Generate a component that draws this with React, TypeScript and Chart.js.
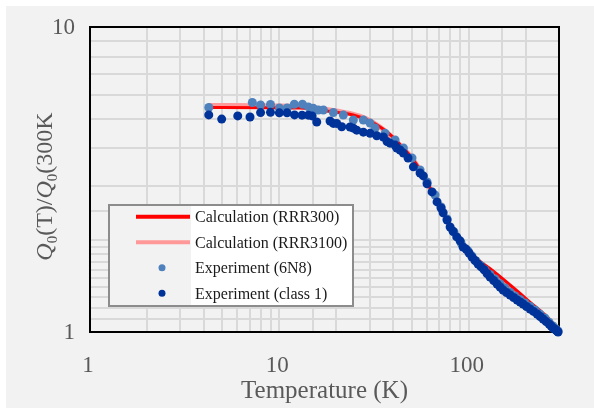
import React, { useEffect, useRef } from 'react';
import { Chart, registerables } from 'chart.js';

Chart.register(...registerables);

// Calculation (RRR300)
const tempRRR300 = [4.2, 12.86, 18.53, 24.5, 30.14, 35.3, 39.86, 45.2, 51, 55.4, 62.5, 70.6, 79.8, 90.1, 101.7, 114.9, 132.5, 165.5, 210.6, 274.8, 300];
const qRRR300 = [5.445, 5.425, 5.284, 5.147, 4.918, 4.63, 4.357, 4.01, 3.664, 3.397, 2.966, 2.589, 2.243, 2.003, 1.829, 1.703, 1.597, 1.426, 1.254, 1.081, 1.0];

// Calculation (RRR3100)
const tempRRR3100 = [4.2, 12.86, 18.53, 23.63, 28.95, 34.04, 38.44, 43.41, 47.3, 51, 62.5, 70.6, 79.8, 90.1, 101.7, 114.9, 132.5, 165.5, 210.6, 274.8, 300];
const qRRR3100 = [5.53, 5.49, 5.345, 5.205, 4.993, 4.7, 4.41, 4.07, 3.88, 3.664, 2.957, 2.57, 2.226, 1.987, 1.816, 1.685, 1.573, 1.394, 1.226, 1.066, 1.0];

// Experiment (6N8)
const temp6N8 = [4.24, 7.2, 7.96, 8.98, 10.0, 11.0, 12.0, 13.25, 14.23, 15.12, 16.07, 17.08, 19.29, 21.78, 24.6, 27.78, 30.14, 32.03, 36.2, 40.85, 45.2, 50.2, 55.4, 60.3, 66.45, 71.5, 76.9, 83.7, 91.2, 99.3, 104, 109.4, 115.5, 122.1, 129.5, 137.9, 146.5, 155.7, 165.5, 175.9, 187, 198.6, 211, 224.3, 238, 253.3, 266, 279, 288, 296.7];
const q6N8 = [5.445, 5.655, 5.55, 5.575, 5.43, 5.43, 5.58, 5.58, 5.47, 5.41, 5.345, 5.345, 5.245, 5.147, 4.955, 4.955, 4.84, 4.664, 4.48, 4.26, 4.01, 3.72, 3.397, 3.103, 2.813, 2.57, 2.347, 2.128, 1.958, 1.843, 1.775, 1.71, 1.652, 1.597, 1.543, 1.492, 1.44, 1.394, 1.35, 1.312, 1.277, 1.245, 1.212, 1.181, 1.145, 1.111, 1.077, 1.046, 1.025, 1.008];

// Experiment (class 1)
const tempClass1 = [4.24, 4.96, 6.03, 7.0, 7.96, 8.98, 10.0, 10.98, 12.03, 13.18, 14.23, 14.9, 15.76, 18.53, 19.29, 20.1, 21.36, 23.63, 24.6, 25.63, 27.78, 30.14, 32.7, 35.43, 37.06, 38.44, 40.85, 41.71, 43.41, 45.19, 47.85, 51.05, 55.38, 57.64, 60.29, 64.08, 68.1, 71.5, 73.3, 76.9, 79.8, 82.7, 86.5, 90.1, 93.4, 96.9, 100.5, 104.2, 108, 112.1, 116.3, 120.6, 125, 129.7, 135.5, 141.3, 146.5, 151.9, 158.5, 165.5, 172.7, 180.2, 187, 193.8, 202, 211, 220, 229.8, 238.5, 247.2, 256.5, 265.9, 272.5, 279, 284, 289.5, 293, 296.7];
const qClass1 = [5.15, 4.99, 5.11, 5.07, 5.24, 5.25, 5.23, 5.23, 5.15, 5.14, 5.14, 5.11, 4.88, 4.92, 4.83, 4.83, 4.71, 4.7, 4.66, 4.59, 4.52, 4.48, 4.4, 4.36, 4.21, 4.16, 4.1, 4.01, 3.95, 3.86, 3.72, 3.48, 3.32, 3.25, 3.06, 2.88, 2.67, 2.55, 2.46, 2.33, 2.21, 2.14, 2.05, 1.99, 1.9, 1.87, 1.815, 1.76, 1.715, 1.67, 1.635, 1.6, 1.555, 1.515, 1.475, 1.437, 1.405, 1.373, 1.347, 1.322, 1.297, 1.273, 1.254, 1.235, 1.212, 1.19, 1.168, 1.146, 1.124, 1.103, 1.082, 1.062, 1.046, 1.031, 1.023, 1.015, 1.007, 1.0];

const seriesLabels = ['Calculation (RRR300)', 'Calculation (RRR3100)', 'Experiment (6N8)', 'Experiment (class 1)'];
const xTitle = 'Temperature (K)';
const yTitleParts = ['Q', '0', '(T)/', 'Q', '0', '(300K'];

const toPts = (xs: number[], ys: number[]) => xs.map((x, i) => ({ x, y: ys[i] }));

const SERIF = '"Liberation Serif", "Times New Roman", serif';
const TEXT_GRAY = '#595959';

const decadeLabel = (v: any) => {
  const n = Number(v);
  const l = Math.log10(n);
  return Math.abs(l - Math.round(l)) < 1e-9 ? String(n) : '';
};

const plotBorder = {
  id: 'plotBorder',
  beforeDatasetsDraw(chart: any) {
    const { ctx, chartArea: a } = chart;
    ctx.save();
    ctx.strokeStyle = '#000000';
    ctx.lineWidth = 2;
    ctx.strokeRect(a.left, a.top, a.right - a.left, a.bottom - a.top);
    ctx.restore();
  },
};

const yTitlePlugin = {
  id: 'yTitle',
  afterDraw(chart: any) {
    const ctx = chart.ctx;
    const big = `24px ${SERIF}`;
    const ital = `italic 24px ${SERIF}`;
    const small = `15px ${SERIF}`;
    const fonts = [ital, small, big, ital, small, big];
    const dys = [0, 5, 0, 0, 5, 0];
    ctx.save();
    let total = 0;
    const widths = yTitleParts.map((t, i) => {
      ctx.font = fonts[i];
      const w = ctx.measureText(t).width;
      total += w;
      return w;
    });
    const cx = 38;
    const cy = (chart.chartArea.top + chart.chartArea.bottom) / 2 + 7;
    ctx.translate(cx, cy);
    ctx.rotate(-Math.PI / 2);
    ctx.fillStyle = TEXT_GRAY;
    ctx.textBaseline = 'alphabetic';
    ctx.textAlign = 'left';
    let x = -total / 2;
    yTitleParts.forEach((t, i) => {
      ctx.font = fonts[i];
      ctx.fillText(t, x, 8 + dys[i]);
      x += widths[i];
    });
    ctx.restore();
  },
};

const insideLegend = {
  id: 'insideLegend',
  afterDraw(chart: any) {
    const ctx = chart.ctx;
    const bx = 103, by = 199, bw = 244, bh = 101;
    ctx.save();
    ctx.fillStyle = '#f2f2f2';
    ctx.fillRect(bx, by, bw, bh);
    ctx.fillStyle = '#ffffff';
    ctx.fillRect(185, by + 1, bx + bw - 185 - 1, bh - 2);
    ctx.strokeStyle = '#8c8c8c';
    ctx.lineWidth = 2;
    ctx.strokeRect(bx, by, bw, bh);
    const rowY = [210.7, 236.3, 261.7, 287.3];
    chart.data.datasets.forEach((ds: any, i: number) => {
      const y = rowY[i];
      if (ds.showLine) {
        ctx.strokeStyle = ds.borderColor;
        ctx.lineWidth = 4;
        ctx.beginPath();
        ctx.moveTo(130, y);
        ctx.lineTo(184, y);
        ctx.stroke();
      } else {
        ctx.fillStyle = ds.backgroundColor;
        ctx.beginPath();
        ctx.arc(156, y, 3.5, 0, Math.PI * 2);
        ctx.fill();
      }
      ctx.fillStyle = '#1a1a1a';
      ctx.font = `16px ${SERIF}`;
      ctx.textBaseline = 'middle';
      ctx.textAlign = 'left';
      ctx.fillText(ds.label, 189, y + 1);
    });
    ctx.restore();
  },
};

export default function App() {
  const ref = useRef<HTMLCanvasElement>(null);
  useEffect(() => {
    if (!ref.current) return;
    const chart = new Chart(ref.current, {
      type: 'scatter',
      data: {
        datasets: [
          {
            label: seriesLabels[0],
            data: toPts(tempRRR300, qRRR300),
            showLine: true,
            borderColor: '#ff0000',
            backgroundColor: '#ff0000',
            borderWidth: 3,
            pointRadius: 0,
            cubicInterpolationMode: 'monotone',
            order: 3,
          },
          {
            label: seriesLabels[1],
            data: toPts(tempRRR3100, qRRR3100),
            showLine: true,
            borderColor: '#ff9999',
            backgroundColor: '#ff9999',
            borderWidth: 5,
            pointRadius: 0,
            cubicInterpolationMode: 'monotone',
            order: 4,
          },
          {
            label: seriesLabels[2],
            data: toPts(temp6N8, q6N8),
            showLine: false,
            backgroundColor: '#4f81bd',
            borderWidth: 0,
            pointRadius: 4.5,
            clip: false,
            order: 2,
          },
          {
            label: seriesLabels[3],
            data: toPts(tempClass1, qClass1),
            showLine: false,
            backgroundColor: '#003399',
            borderWidth: 0,
            pointRadius: 4.5,
            clip: false,
            order: 1,
          },
        ] as any,
      },
      options: {
        animation: false,
        responsive: false,
        devicePixelRatio: 1,
        layout: { padding: { left: 0, top: 21, right: 35, bottom: 0 } },
        plugins: { legend: { display: false }, tooltip: { enabled: false } },
        scales: {
          x: {
            type: 'logarithmic',
            min: 1,
            max: 300,
            position: 'bottom',
            grid: { color: '#d9d9d9', lineWidth: 2, drawTicks: false },
            border: { display: false },
            ticks: {
              autoSkip: false,
              maxRotation: 0,
              minRotation: 0,
              padding: 20,
              labelOffset: -2,
              color: TEXT_GRAY,
              font: { family: SERIF, size: 23 },
              callback: decadeLabel,
            },
            title: {
              display: true,
              text: xTitle,
              color: TEXT_GRAY,
              font: { family: SERIF, size: 25 },
              padding: { top: 0, bottom: 2 },
            },
            afterFit: (s: any) => { s.height = 76; },
          },
          y: {
            type: 'logarithmic',
            min: 1,
            max: 10,
            grid: { color: '#d9d9d9', lineWidth: 2, drawTicks: false },
            border: { display: false },
            ticks: {
              autoSkip: false,
              padding: 15,
              labelOffset: 1,
              color: TEXT_GRAY,
              font: { family: SERIF, size: 23, lineHeight: 0.5 },
              callback: decadeLabel,
            },
            afterFit: (s: any) => { s.width = 84; },
          },
        },
      } as any,
      plugins: [plotBorder, yTitlePlugin, insideLegend],
    });
    return () => chart.destroy();
  }, []);

  return (
    <div style={{ position: 'fixed', left: 6, top: 6, width: 588, height: 402, background: '#f2f2f2' }}>
      <canvas ref={ref} width={588} height={402} style={{ display: 'block', width: 588, height: 402 }} />
    </div>
  );
}
